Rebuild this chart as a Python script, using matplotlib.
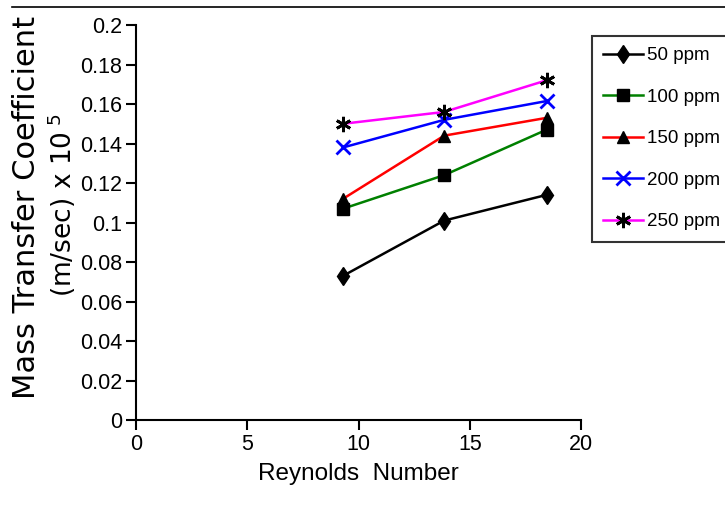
import matplotlib
matplotlib.use("Agg")
import matplotlib.pyplot as plt
from matplotlib.lines import Line2D

# ── Data ──
reynolds = [9.3, 13.85, 18.45]
series_labels = ["50 ppm", "100 ppm", "150 ppm", "200 ppm", "250 ppm"]
k_50 = [0.073, 0.101, 0.114]
k_100 = [0.107, 0.124, 0.147]
k_150 = [0.112, 0.144, 0.153]
k_200 = [0.138, 0.152, 0.1615]
k_250 = [0.150, 0.156, 0.172]
x_ticks = [0, 5, 10, 15, 20]
y_ticks = [0, 0.02, 0.04, 0.06, 0.08, 0.1, 0.12, 0.14, 0.16, 0.18, 0.2]
y_tick_labels = ["0", "0.02", "0.04", "0.06", "0.08", "0.1", "0.12", "0.14", "0.16", "0.18", "0.2"]

plt.rcParams.update({"font.family": "Liberation Sans", "font.size": 15})

styles = [
    dict(color="black", marker="d", mfc="black", mec="black", ms=9.5),
    dict(color="#008000", marker="s", mfc="black", mec="black", ms=8.5),
    dict(color="red", marker="^", mfc="black", mec="black", ms=9),
    dict(color="blue", marker="x", mfc="blue", mec="blue", ms=10, mew=2),
    dict(color="magenta", marker=(6, 2, 0), mfc="black", mec="black", ms=11, mew=2),
]

fig = plt.figure(figsize=(7.25, 5.18), dpi=100)
ax = fig.add_axes([0.1876, 0.189, 0.6138, 0.7627])

for vals, lab, st in zip([k_50, k_100, k_150, k_200, k_250], series_labels, styles):
    ax.plot(reynolds, vals, lw=1.8, label=lab, **st)

ax.set_xlim(0, 20)
ax.set_ylim(0, 0.2)
ax.set_xticks(x_ticks)
ax.set_yticks(y_ticks)
ax.set_yticklabels(y_tick_labels)
ax.tick_params(direction="out", length=7, width=1.5, labelsize=15.5, pad=3)
for s in ["top", "right"]:
    ax.spines[s].set_visible(False)
for s in ["left", "bottom"]:
    ax.spines[s].set_linewidth(1.5)

ax.set_xlabel("Reynolds  Number", fontsize=17.5, labelpad=6)

# rotated y label: two lines, wide face because the original is stretched vertically
fig.text(27 / 725, 1 - 207 / 518, "Mass Transfer Coefficient", rotation=90,
         ha="center", va="center", fontsize=22, family="DejaVu Sans")
fig.text(62 / 725, 1 - 205 / 518, "(m/sec) x 10$^{\\ 5}$", rotation=90,
         ha="center", va="center", fontsize=19, family="DejaVu Sans")

leg = fig.legend(loc="upper left", bbox_to_anchor=(592 / 725, 1 - 36 / 518),
                 borderaxespad=0, fontsize=13.5, frameon=True, fancybox=False,
                 handlelength=2.1, labelspacing=1.3, borderpad=0.6, handletextpad=0.25)
leg.get_frame().set_edgecolor("black")
leg.get_frame().set_linewidth(1.5)

fig.add_artist(Line2D([12 / 725, 1], [1 - 7 / 518, 1 - 7 / 518], color="black", lw=1.2))

fig.savefig("out.png", dpi=100)
